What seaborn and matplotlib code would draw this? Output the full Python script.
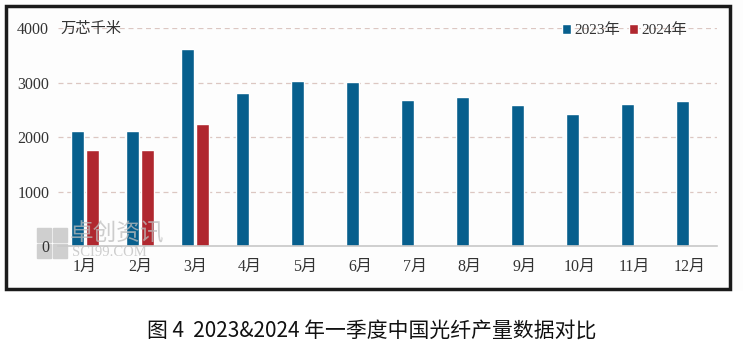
import numpy as np
import pandas as pd
import matplotlib
matplotlib.use("Agg")
import matplotlib.pyplot as plt
from matplotlib.patches import Rectangle
import seaborn as sns

# data
months = ['1月', '2月', '3月', '4月', '5月', '6月', '7月', '8月', '9月', '10月', '11月', '12月']
prod_2023 = [2110, 2110, 3615, 2805, 3030, 3010, 2680, 2735, 2590, 2420, 2605, 2660]
prod_2024 = [1760, 1760, 2240, np.nan, np.nan, np.nan, np.nan, np.nan, np.nan, np.nan, np.nan, np.nan]
series = ['2023年', '2024年']
colors = ['#075f8d', '#b0272f']

df = pd.DataFrame({
    'month': months * 2,
    'value': prod_2023 + prod_2024,
    'year': [series[0]] * len(months) + [series[1]] * len(months),
})

sns.set_style('white')
plt.rcParams['font.family'] = ['Liberation Serif', 'Noto Sans CJK SC']

fig = plt.figure(figsize=(7.43, 3.52), dpi=100)
fig.patch.set_facecolor('#fdfdfd')
ax = fig.add_axes([0.0774, 0.301, 0.888, 0.619])
ax.patch.set_visible(False)

sns.barplot(data=df, x='month', y='value', hue='year', order=months,
            hue_order=series, palette=colors, width=0.56, gap=0.15,
            saturation=1, ax=ax)

ax.set_ylim(0, 4000)
ax.set_xlim(-0.5, 11.5)
ax.set_yticks([0, 1000, 2000, 3000, 4000])
ax.set_xlabel('')
ax.set_ylabel('')
for yv in [1000, 2000, 3000, 4000]:
    ax.axhline(yv, color='#dcc7c2', lw=0.9, ls=(0, (4, 3)), zorder=0)
for s in ['top', 'right', 'left']:
    ax.spines[s].set_visible(False)
ax.spines['bottom'].set_color('#c8c8c8')
ax.spines['bottom'].set_linewidth(1.2)
ax.tick_params(axis='both', length=0, labelsize=11.5, colors='#333333')
ax.tick_params(axis='x', pad=9)
ax.tick_params(axis='y', pad=6)

ax.text(0.005, 1.0, '万芯千米', transform=ax.transAxes, fontsize=11,
        color='#333333', va='center', ha='left', family='Noto Sans CJK SC')

# watermark (logo block + brand text)
for i in range(2):
    for j in range(2):
        fig.patches.append(Rectangle(((37 + i * 16) / 743, 1 - (258 - j * 16) / 352),
                                     14 / 743, 14 / 352, transform=fig.transFigure,
                                     color='#cfcfcf', zorder=-1))
fig.text(70 / 743, 1 - 234 / 352, '卓创资讯', fontsize=17, color='#bdbdbd', alpha=0.75,
         family='Noto Sans CJK SC', va='center', ha='left', zorder=5)
fig.text(72 / 743, 1 - 252 / 352, 'SCI99.COM', fontsize=10.5, color='#bdbdbd', alpha=0.75,
         family='Liberation Serif', va='center', ha='left', zorder=5)

leg = ax.legend(loc='upper right', bbox_to_anchor=(0.975, 1.085), ncol=2,
                frameon=False, fontsize=11, handlelength=0.6, handleheight=0.6,
                handletextpad=0.2, columnspacing=0.6, labelcolor='#333333')

# outer frame
fig.patches.append(Rectangle((0.0075, 0.178), 0.975, 0.805, transform=fig.transFigure,
                             fill=False, edgecolor='#1a1a1a', linewidth=2.5))
# white strip under frame for caption
fig.patches.append(Rectangle((0, 0), 1, 0.172, transform=fig.transFigure,
                             color='white', zorder=-2))

fig.text(0.5, 0.062, '图 4  2023&2024 年一季度中国光纤产量数据对比', ha='center', va='center',
         fontsize=15, color='#111111', family='Noto Sans CJK SC')

plt.savefig('out.png', dpi=100)
